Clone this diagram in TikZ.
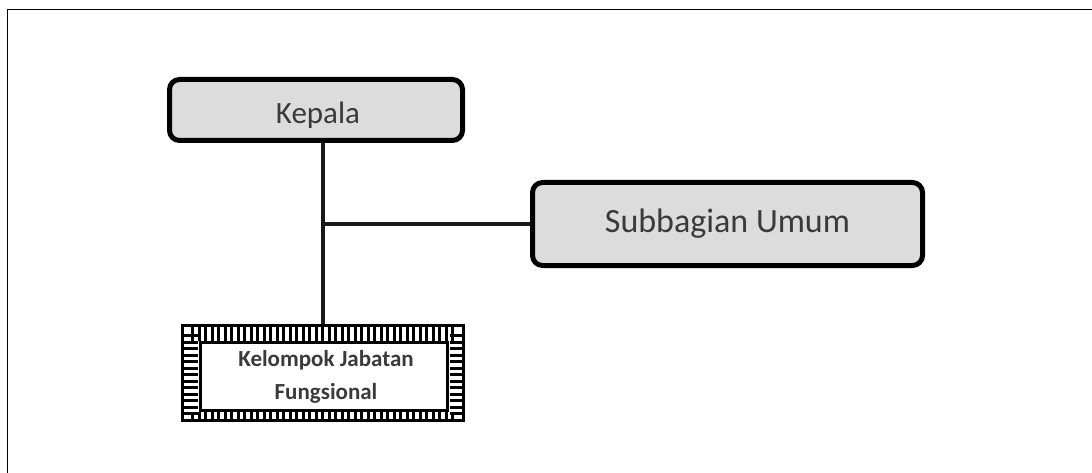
\documentclass[tikz,border=0pt]{standalone}
\usepackage{fontspec}
\setmainfont{Carlito}
\definecolor{boxgray}{HTML}{DCDCDC}
\definecolor{txtgray}{HTML}{3A3A3A}
\tikzset{
  orgbox/.style={draw=black, fill=boxgray, line width=5pt, rounded corners=10pt, text=txtgray, inner sep=0pt},
  conn/.style={line width=4pt, draw=black!90},
  frameline/.style={line width=1pt, draw=black},
  ladder/.style={dash pattern=on 3pt off 3.5pt}
}
\begin{document}
\begin{tikzpicture}[x=1pt,y=-1pt]
\useasboundingbox (0,0) rectangle (1092,473);
\draw[frameline] (7,10) -- (1092,10);
\draw[frameline] (7,10) -- (7,473);
% boxes
\node[orgbox, minimum width=293pt, minimum height=61pt, font=\fontsize{31}{36}\selectfont] (kep) at (316,110) {};
\node[text=txtgray, font=\fontsize{31}{36}\selectfont] (keplabel) at (318,115) {Kepala};
\node[orgbox, minimum width=390pt, minimum height=83pt, font=\fontsize{34}{40}\selectfont] (sub) at (727.5,224) {Subbagian Umum};
\node[minimum width=283pt, minimum height=97pt, inner sep=0pt] (kel) at (323,373) {};
\node[align=center, text=txtgray, inner sep=0pt,
      font=\bfseries\fontsize{23}{33}\selectfont] (kellabel) at (326,377) {Kelompok Jabatan\\Fungsional};
% patterned border of kel
\draw[line width=3pt] ([shift={(1.5,1.5)}]kel.north west) rectangle ([shift={(-1.5,-1.5)}]kel.south east);
\draw[line width=2.5pt] ([shift={(19,18)}]kel.north west) rectangle ([shift={(-17,-11)}]kel.south east);
\draw[line width=14pt, ladder] ([shift={(10,10)}]kel.north west) -- ([shift={(-9,10)}]kel.north east);
\draw[line width=8pt, ladder] ([shift={(10,-6)}]kel.south west) -- ([shift={(-9,-6)}]kel.south east);
\draw[line width=14pt, ladder] ([shift={(10,10)}]kel.north west) -- ([shift={(10,-6)}]kel.south west);
\draw[line width=12pt, ladder] ([shift={(-9,10)}]kel.north east) -- ([shift={(-9,-6)}]kel.south east);
% connectors
\coordinate (top) at (kel.north |- kep.south);
\coordinate (mid) at (kel.north |- sub.west);
\draw[conn] (top) -- (kel.north);
\draw[conn] (mid) -- (sub.west);
\end{tikzpicture}
\end{document}
